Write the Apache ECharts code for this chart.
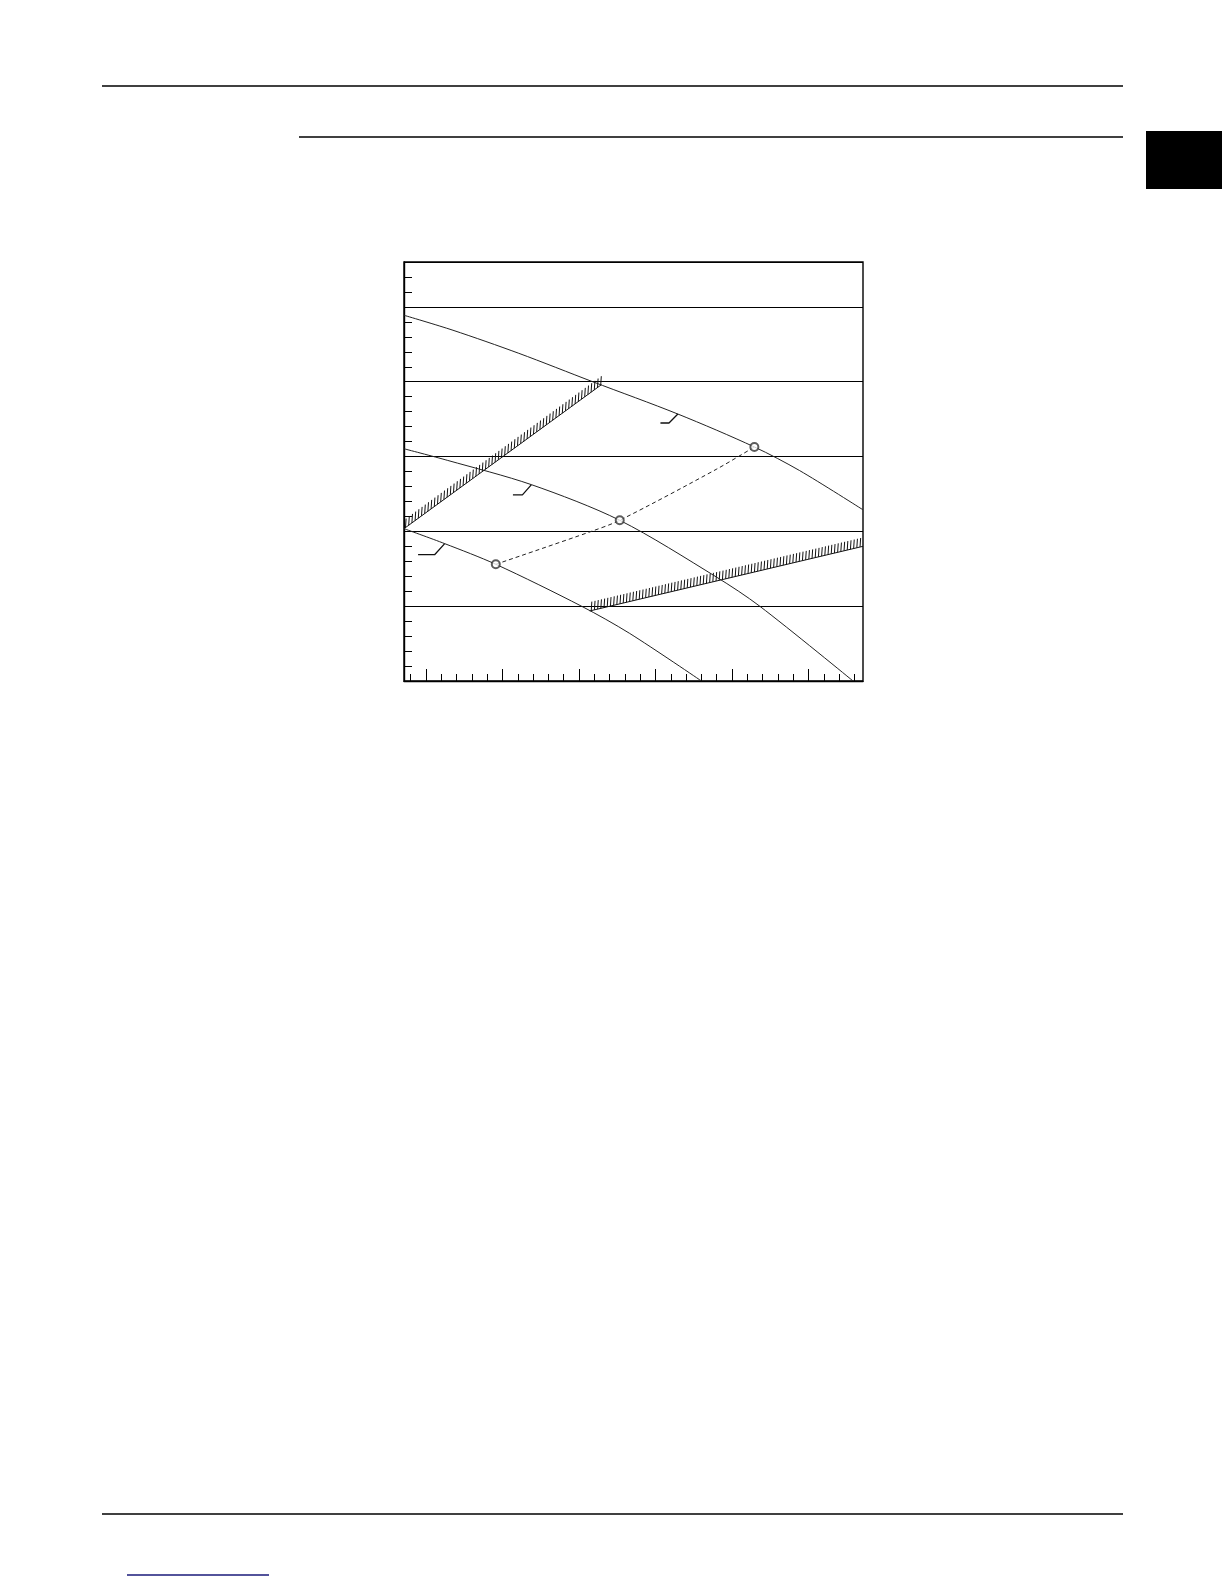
<!DOCTYPE html>
<html>
<head>
<meta charset="utf-8">
<title>pump curves</title>
<script src="https://cdn.jsdelivr.net/npm/echarts@6.0.0/dist/echarts.min.js"></script>
<style>
  html, body { margin: 0; padding: 0; background: #fff; }
  #page { width: 1224px; height: 1584px; }
</style>
</head>
<body>
<div id="page"></div>
<script>
// ===== data (x = flow, y = head) =====
var curveTop = [[0, 12.22], [0.32, 11.72], [0.75, 10.95], [1.233, 10.0], [1.79, 8.92], [2.29, 7.82], [2.586, 7.03], [3.0, 5.72]];
var curveMid = [[0, 7.76], [0.286, 7.37], [0.833, 6.56], [1.41, 5.37], [2.04, 3.48], [2.325, 2.5], [2.935, 0]];
var curveLow = [[0, 5.09], [0.266, 4.59], [0.6, 3.9], [1.16, 2.5], [1.475, 1.59], [1.944, 0]];
var systemCurve = [[0.6, 3.9], [1.225, 5.0], [1.41, 5.37], [2.04, 7.07], [2.29, 7.82]];
var dutyPoints = [[0.6, 3.9], [1.41, 5.37], [2.29, 7.82]];
var limitLeft = [[0, 5.09], [1.29, 9.9]];
var limitRight = [[1.214, 2.34], [3.0, 4.5]];
var leaderTop = [[1.676, 8.62], [1.732, 8.62], [1.79, 8.92]];
var leaderMid = [[0.712, 6.22], [0.774, 6.22], [0.833, 6.56]];
var leaderLow = [[0.092, 4.22], [0.2, 4.22], [0.266, 4.59]];

var xMin = 0, xMax = 3, yMin = 0, yMax = 14;
var tickOffset = 0.044;

var minorX = [];
for (var k = 0; k < 30; k++) minorX.push(+(tickOffset + k * 0.1).toFixed(4));
var majorX = minorX.filter(function (v, i) { return i % 5 === 1; });

var chart = echarts.init(document.getElementById('page'), null, { renderer: 'canvas' });

// hatched limit line: solid line plus short vertical strokes above it
function hatchRender(points) {
  return function (params, api) {
    var a = api.coord(points[0]);
    var b = api.coord(points[1]);
    var kids = [{
      type: 'line',
      shape: { x1: a[0], y1: a[1], x2: b[0], y2: b[1] },
      style: { stroke: '#111', lineWidth: 1 }
    }];
    var step = 3.2;
    for (var x = a[0] + 1.5; x <= b[0]; x += step) {
      var t = (x - a[0]) / (b[0] - a[0]);
      var y = a[1] + t * (b[1] - a[1]);
      kids.push({
        type: 'line',
        shape: { x1: x, y1: y, x2: x + 0.6, y2: y - 9 },
        style: { stroke: '#111', lineWidth: 1 }
      });
    }
    return { type: 'group', children: kids };
  };
}

function curve(data, dashed) {
  return {
    type: 'line',
    data: data,
    smooth: 0.3,
    showSymbol: false,
    silent: true,
    lineStyle: { color: '#222', width: 1, type: dashed ? [4, 3] : 'solid' }
  };
}

function leader(data) {
  return {
    type: 'line',
    data: data,
    showSymbol: false,
    silent: true,
    lineStyle: { color: '#111', width: 1.3 }
  };
}

var option = {
  animation: false,
  backgroundColor: '#fff',
  grid: {
    left: 404, top: 262, width: 459, height: 419,
    show: true, borderColor: '#000', borderWidth: 1.4
  },
  xAxis: [
    {
      type: 'value', min: xMin, max: xMax, position: 'bottom',
      axisLine: { show: true, lineStyle: { color: '#000', width: 1.4 } },
      axisTick: { show: true, inside: true, length: 12, customValues: majorX, lineStyle: { color: '#000', width: 1 } },
      axisLabel: { show: false },
      splitLine: { show: false }
    },
    {
      type: 'value', min: xMin, max: xMax, position: 'bottom', offset: 0,
      axisLine: { show: false },
      axisTick: { show: true, inside: true, length: 7, customValues: minorX, lineStyle: { color: '#000', width: 1 } },
      axisLabel: { show: false },
      splitLine: { show: false }
    }
  ],
  yAxis: [
    {
      type: 'value', min: yMin, max: yMax, interval: 2.5, position: 'left',
      axisLine: { show: true, lineStyle: { color: '#000', width: 1.4 } },
      axisTick: { show: false },
      axisLabel: { show: false },
      splitLine: { show: true, lineStyle: { color: '#000', width: 1.2 } }
    },
    {
      type: 'value', min: yMin, max: yMax, interval: 0.5, position: 'left', offset: 0,
      axisLine: { show: false },
      axisTick: { show: true, inside: true, length: 8, lineStyle: { color: '#000', width: 1 } },
      axisLabel: { show: false },
      splitLine: { show: false }
    }
  ],
  series: [
    curve(curveTop),
    curve(curveMid),
    curve(curveLow),
    curve(systemCurve, true),
    {
      type: 'scatter',
      data: dutyPoints,
      symbol: 'emptyCircle',
      symbolSize: 8,
      silent: true,
      itemStyle: { color: '#333', borderWidth: 0.8 },
      z: 5
    },
    { type: 'custom', data: [0], silent: true, renderItem: hatchRender(limitLeft) },
    { type: 'custom', data: [0], silent: true, renderItem: hatchRender(limitRight) },
    leader(leaderTop),
    leader(leaderMid),
    leader(leaderLow)
  ],
  // page rules and tab mark
  graphic: [
    { type: 'line', shape: { x1: 102, y1: 86, x2: 1123, y2: 86 }, style: { stroke: '#000', lineWidth: 1.3 } },
    { type: 'line', shape: { x1: 299, y1: 137, x2: 1123, y2: 137 }, style: { stroke: '#000', lineWidth: 1.3 } },
    { type: 'rect', shape: { x: 1146, y: 131, width: 76, height: 58 }, style: { fill: '#000' } },
    { type: 'line', shape: { x1: 102, y1: 1514, x2: 1123, y2: 1514 }, style: { stroke: '#000', lineWidth: 1.3 } },
    { type: 'line', shape: { x1: 127, y1: 1575, x2: 269, y2: 1575 }, style: { stroke: '#1a1a7a', lineWidth: 1.5 } }
  ]
};

chart.setOption(option);
</script>
</body>
</html>
